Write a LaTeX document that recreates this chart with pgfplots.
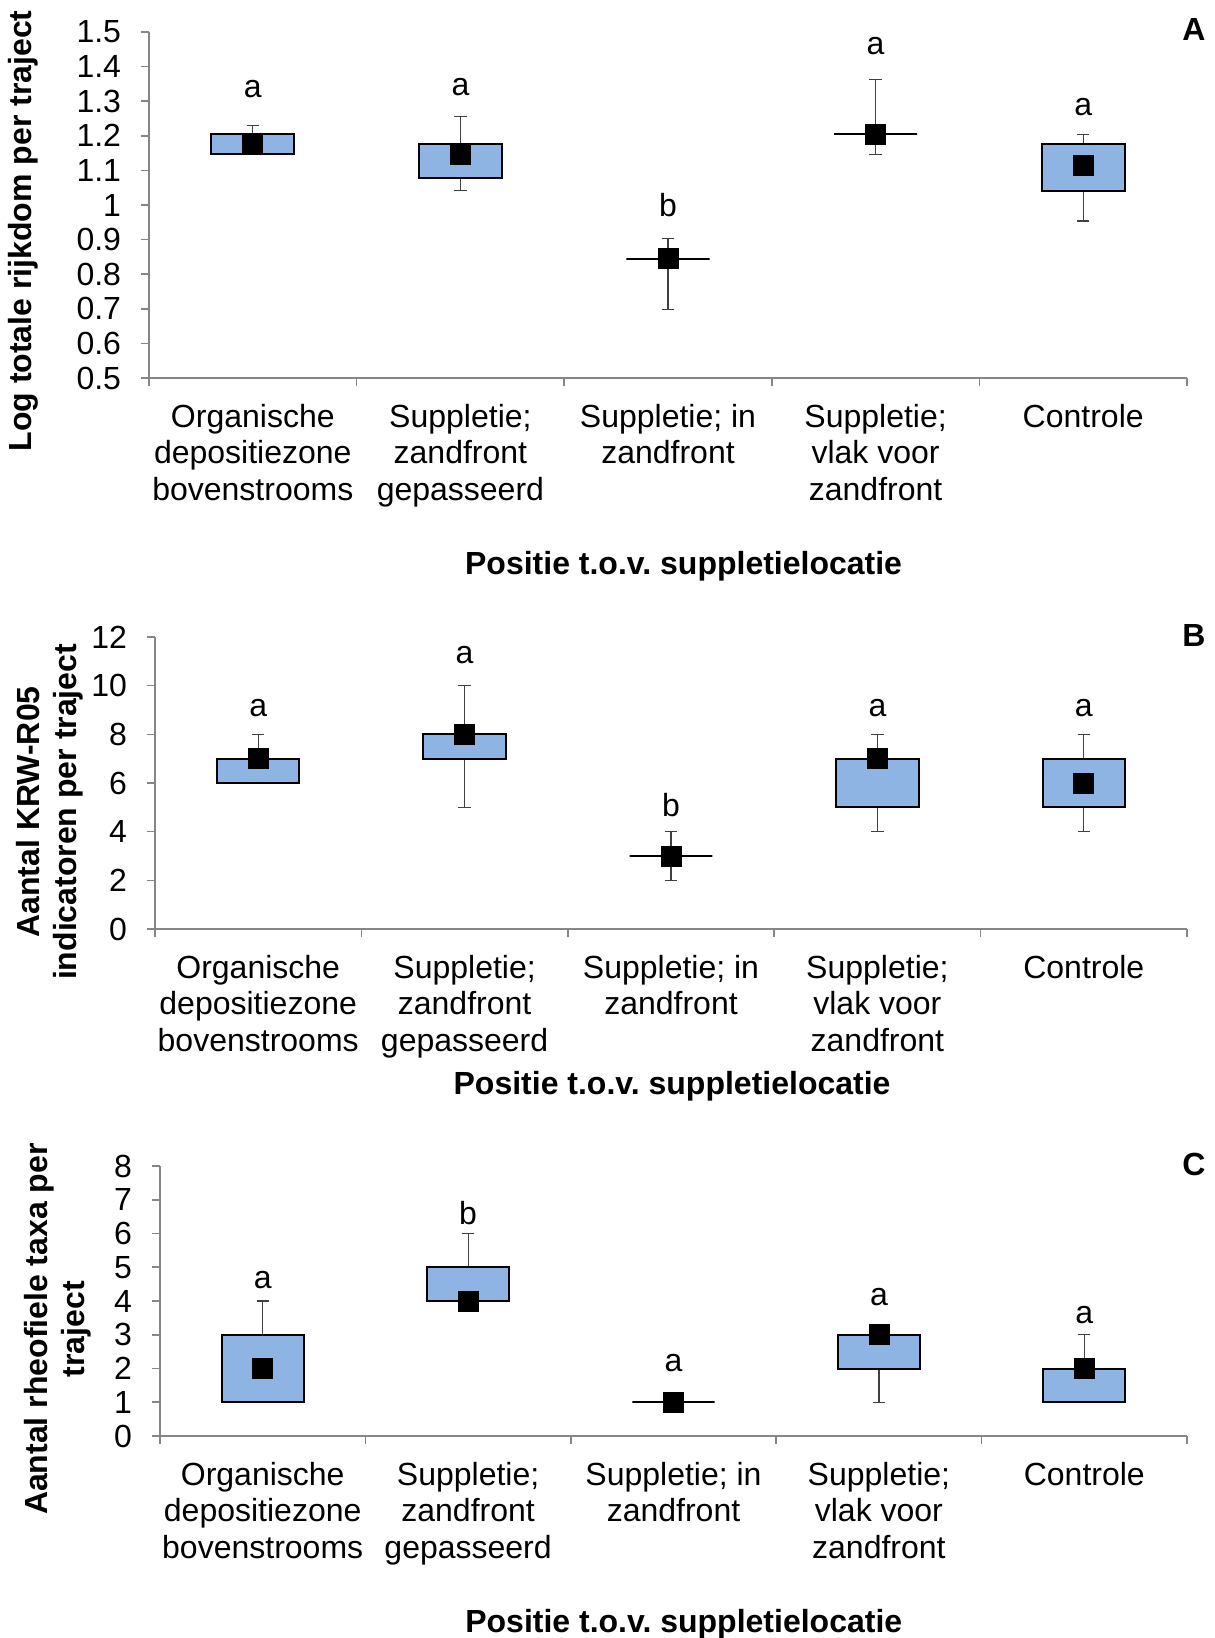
\documentclass[border=0pt]{standalone}
\usepackage{fontspec}
\setmainfont{Liberation Sans}
\usepackage{pgfplots}
\pgfplotsset{compat=1.18}
\usepgfplotslibrary{statistics}
\frenchspacing

\definecolor{boxblue}{HTML}{8DB4E2}
\definecolor{axisgray}{HTML}{868686}
\definecolor{whiskergray}{HTML}{404040}

\newcommand{\fs}{\fontsize{16}{18.3}\selectfont}

\pgfplotsset{
  panel/.style={
    scale only axis,
    axis lines=left,
    axis line style={-, draw=axisgray, line width=0.8pt},
    clip=false,
    xmin=0.5, xmax=5.5,
    xtick={0.5,1.5,2.5,3.5,4.5,5.5},
    x tick label as interval,
    xticklabels={{Organische\\depositiezone\\bovenstrooms},
                 {Suppletie;\\zandfront\\gepasseerd},
                 {Suppletie; in\\zandfront},
                 {Suppletie;\\vlak voor\\zandfront},
                 {Controle}},
    tick align=outside,
    major tick length=4pt,
    tick style={draw=axisgray, line width=0.8pt},
    xticklabel style={font=\fs, align=center, anchor=north, inner sep=0pt, yshift=-8.8pt},
    yticklabel style={font=\fs, anchor=east, inner sep=0pt, xshift=-9.8pt},
    /pgf/number format/assume math mode=true,
    xlabel style={font=\bfseries\fs, anchor=center},
    ylabel style={font=\bfseries\fs, anchor=center, align=center},
  },
  qbox/.style={
    fill=boxblue, draw=black, line width=1pt,
    boxplot/draw direction=y,
    boxplot/box extend=0.4,
    boxplot/whisker extend=0.06,
    boxplot/every whisker/.style={draw=whiskergray, line width=0.6pt},
    boxplot/draw/median/.code={},
  },
  meanmark/.style={only marks, mark=square*, mark size=5pt, black},
}

\begin{document}
\begin{tikzpicture}
\path[use as bounding box] (0,0) rectangle (607.5pt,-819pt);

% Panel A: log total richness
\begin{axis}[panel,
  at={(74.5pt,-16pt)}, anchor=north west,
  width=519pt, height=173pt,
  ymin=0.5, ymax=1.5,
  ytick={0.5,0.6,0.7,0.8,0.9,1,1.1,1.2,1.3,1.4,1.5},
  yticklabel style={/pgf/number format/fixed, /pgf/number format/precision=1},
  xlabel={Positie t.o.v. suppletielocatie},
  xlabel style={at={(axis description cs:0.515,-0.545)}},
  ylabel={Log totale rijkdom per traject},
  ylabel style={at={(axis description cs:-0.1214,0.425)}},
]
\addplot[qbox, boxplot prepared={draw position=1, lower whisker=1.146, lower quartile=1.146, median=1.176, upper quartile=1.204, upper whisker=1.230}] coordinates {};
\addplot[qbox, boxplot prepared={draw position=2, lower whisker=1.041, lower quartile=1.079, median=1.146, upper quartile=1.176, upper whisker=1.255}] coordinates {};
\addplot[qbox, boxplot prepared={draw position=3, lower whisker=0.699, lower quartile=0.845, median=0.845, upper quartile=0.845, upper whisker=0.903}] coordinates {};
\addplot[qbox, boxplot prepared={draw position=4, lower whisker=1.146, lower quartile=1.204, median=1.204, upper quartile=1.204, upper whisker=1.362}] coordinates {};
\addplot[qbox, boxplot prepared={draw position=5, lower whisker=0.954, lower quartile=1.041, median=1.114, upper quartile=1.176, upper whisker=1.204}] coordinates {};
\addplot[meanmark] coordinates {(1,1.176) (2,1.146) (3,0.845) (4,1.204) (5,1.114)};
\node[font=\fs] at (axis cs:1,1.335) {a};
\node[font=\fs] at (axis cs:2,1.341) {a};
\node[font=\fs] at (axis cs:3,1.001) {b};
\node[font=\fs] at (axis cs:4,1.459) {a};
\node[font=\fs] at (axis cs:5,1.283) {a};
\end{axis}

% Panel B: KRW-R05 indicators
\begin{axis}[panel,
  at={(77.5pt,-318.5pt)}, anchor=north west,
  width=516pt, height=146pt,
  ymin=0, ymax=12,
  ytick={0,2,4,6,8,10,12},
  xlabel={Positie t.o.v. suppletielocatie},
  xlabel style={at={(axis description cs:0.501,-0.539)}},
  ylabel={Aantal KRW-R05\\indicatoren per traject},
  ylabel style={at={(axis description cs:-0.102,0.401)}},
]
\addplot[qbox, boxplot prepared={draw position=1, lower whisker=6, lower quartile=6, median=7, upper quartile=7, upper whisker=8}] coordinates {};
\addplot[qbox, boxplot prepared={draw position=2, lower whisker=5, lower quartile=7, median=8, upper quartile=8, upper whisker=10}] coordinates {};
\addplot[qbox, boxplot prepared={draw position=3, lower whisker=2, lower quartile=3, median=3, upper quartile=3, upper whisker=4}] coordinates {};
\addplot[qbox, boxplot prepared={draw position=4, lower whisker=4, lower quartile=5, median=7, upper quartile=7, upper whisker=8}] coordinates {};
\addplot[qbox, boxplot prepared={draw position=5, lower whisker=4, lower quartile=5, median=6, upper quartile=7, upper whisker=8}] coordinates {};
\addplot[meanmark] coordinates {(1,7) (2,8) (3,3) (4,7) (5,6)};
\node[font=\fs] at (axis cs:1,9.1) {a};
\node[font=\fs] at (axis cs:2,11.27) {a};
\node[font=\fs] at (axis cs:3,5.1) {b};
\node[font=\fs] at (axis cs:4,9.1) {a};
\node[font=\fs] at (axis cs:5,9.1) {a};
\end{axis}

% Panel C: rheophilic taxa
\begin{axis}[panel,
  at={(80pt,-583pt)}, anchor=north west,
  width=513.5pt, height=135pt,
  ymin=0, ymax=8,
  ytick={0,1,2,3,4,5,6,7,8},
  xlabel={Positie t.o.v. suppletielocatie},
  xlabel style={at={(axis description cs:0.510,-0.697)}},
  ylabel={Aantal rheofiele taxa per\\traject},
  ylabel style={at={(axis description cs:-0.0993,0.396)}},
]
\addplot[qbox, boxplot prepared={draw position=1, lower whisker=1, lower quartile=1, median=2, upper quartile=3, upper whisker=4}] coordinates {};
\addplot[qbox, boxplot prepared={draw position=2, lower whisker=4, lower quartile=4, median=4, upper quartile=5, upper whisker=6}] coordinates {};
\addplot[qbox, boxplot prepared={draw position=3, lower whisker=1, lower quartile=1, median=1, upper quartile=1, upper whisker=1}] coordinates {};
\addplot[qbox, boxplot prepared={draw position=4, lower whisker=1, lower quartile=2, median=3, upper quartile=3, upper whisker=3}] coordinates {};
\addplot[qbox, boxplot prepared={draw position=5, lower whisker=1, lower quartile=1, median=2, upper quartile=2, upper whisker=3}] coordinates {};
\addplot[meanmark] coordinates {(1,2) (2,4) (3,1) (4,3) (5,2)};
\node[font=\fs] at (axis cs:1,4.62) {a};
\node[font=\fs] at (axis cs:2,6.6) {b};
\node[font=\fs] at (axis cs:3,2.15) {a};
\node[font=\fs] at (axis cs:4,4.13) {a};
\node[font=\fs] at (axis cs:5,3.59) {a};
\end{axis}

% Panel letters
\node[font=\bfseries\fs] at (597pt,-14.6pt) {A};
\node[font=\bfseries\fs] at (597pt,-317.6pt) {B};
\node[font=\bfseries\fs] at (597pt,-582pt) {C};
\end{tikzpicture}
\end{document}
